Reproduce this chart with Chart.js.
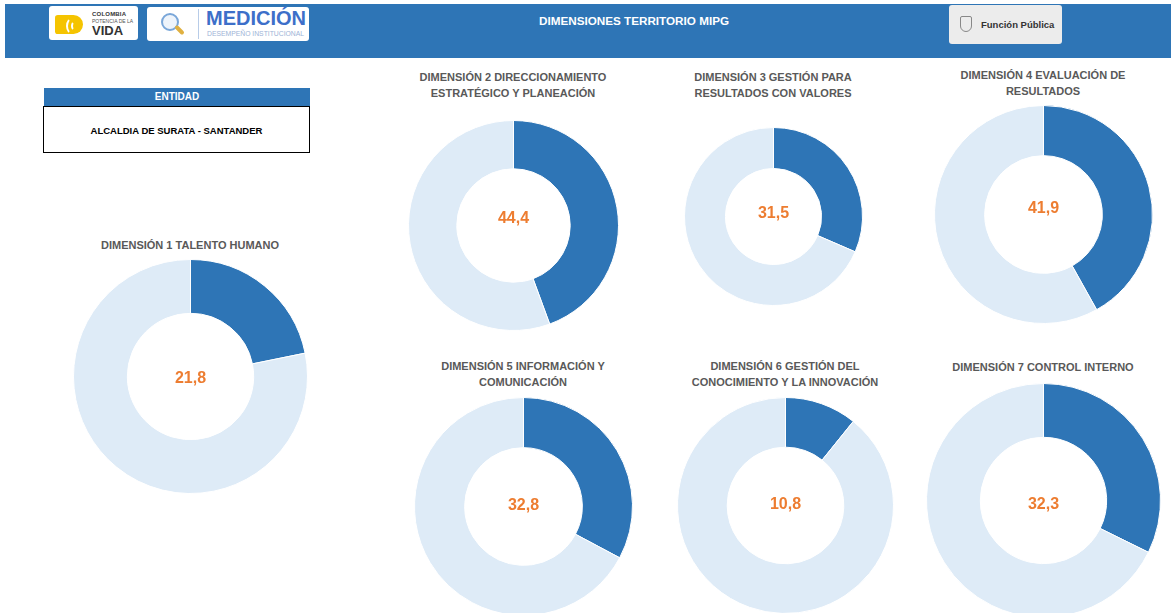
<!DOCTYPE html>
<html>
<head>
<meta charset="utf-8">
<script src="https://cdn.jsdelivr.net/npm/chart.js@4.4.0/dist/chart.umd.min.js"></script>
<style>
  body { margin:0; width:1171px; height:613px; background:#fff; overflow:hidden; position:relative;
         font-family:"Liberation Sans",Arial,sans-serif; }
  .abs { position:absolute; white-space:nowrap; }
  #header { left:5px; top:4px; width:1166px; height:54px; background:#2E75B6; }
  #mainTitle { left:407px; top:14px; width:454px; text-align:center; color:#fff; font-weight:bold; font-size:11.7px; }
  .logo { background:#fff; border-radius:3px; }
  .title { text-align:center; color:#595959; font-weight:bold; font-size:11px; line-height:16px; }
  #entHead { left:44px; top:88px; width:266px; height:18px; background:#2E75B6; color:#fff; font-weight:bold;
             font-size:10px; text-align:center; line-height:18px; }
  #entBox { left:43px; top:106px; width:265px; height:45px; border:1px solid #000; font-weight:bold; font-size:9.5px;
            text-align:center; line-height:47px; color:#000; }
  canvas { position:absolute; }
</style>
</head>
<body>
<div id="header" class="abs"></div>
<div id="mainTitle" class="abs">DIMENSIONES TERRITORIO MIPG</div>

<!-- logo Colombia -->
<div class="abs logo" style="left:49px;top:6px;width:89px;height:34px;">
  <div class="abs" style="left:6px;top:9px;width:28px;height:19px;background:#F5C400;border-radius:3px 10px 10px 3px;"></div>
  <div class="abs" style="left:17px;top:11px;width:12px;height:14px;border:2px solid #fff;border-right:none;border-top-color:transparent;border-bottom-color:transparent;border-radius:50%;"></div>
  <div class="abs" style="left:22px;top:15px;width:6px;height:6px;border:2px solid #fff;border-right:none;border-top-color:transparent;border-bottom-color:transparent;border-radius:50%;"></div>
  <div class="abs" style="left:43px;top:5px;font-size:6px;font-weight:bold;color:#333;letter-spacing:0.2px;">COLOMBIA</div>
  <div class="abs" style="left:43px;top:12px;font-size:5px;color:#555;">POTENCIA DE LA</div>
  <div class="abs" style="left:43px;top:17px;font-size:13px;font-weight:bold;color:#333;">VIDA</div>
</div>

<!-- logo Medición -->
<div class="abs logo" style="left:147px;top:7px;width:162px;height:34px;">
  <div class="abs" style="left:14px;top:6px;width:14px;height:14px;border:2px solid #7AA7D9;border-radius:50%;background:#EEF4FB;"></div>
  <div class="abs" style="left:27px;top:21px;width:11px;height:4px;background:#E0B040;transform:rotate(45deg);border-radius:2px;"></div>
  <div class="abs" style="left:51px;top:2px;width:1px;height:30px;background:#B8CCE8;"></div>
  <div class="abs" style="left:59px;top:0px;font-size:20px;font-weight:bold;color:#3D6FC9;">MEDICIÓN</div>
  <div class="abs" style="left:60px;top:23px;font-size:6.8px;color:#9DB3D6;">DESEMPEÑO INSTITUCIONAL</div>
</div>

<!-- logo Función Pública -->
<div class="abs" style="left:949px;top:5px;width:113px;height:39px;background:#ECECEC;border-radius:3px;">
  <div class="abs" style="left:11px;top:11px;width:10px;height:14px;border:1px solid #888;border-radius:2px 2px 6px 6px;"></div>
  <div class="abs" style="left:32px;top:14px;font-size:9.5px;font-weight:bold;color:#333;">Función Pública</div>
</div>

<div id="entHead" class="abs">ENTIDAD</div>
<div id="entBox" class="abs">ALCALDIA DE SURATA - SANTANDER</div>

<script>
// datos
const dimensiones = [
  ['DIMENSIÓN 1 TALENTO HUMANO'],
  ['DIMENSIÓN 2 DIRECCIONAMIENTO', 'ESTRATÉGICO Y PLANEACIÓN'],
  ['DIMENSIÓN 3 GESTIÓN PARA', 'RESULTADOS CON VALORES'],
  ['DIMENSIÓN 4 EVALUACIÓN DE', 'RESULTADOS'],
  ['DIMENSIÓN 5 INFORMACIÓN Y', 'COMUNICACIÓN'],
  ['DIMENSIÓN 6 GESTIÓN DEL', 'CONOCIMIENTO Y LA INNOVACIÓN'],
  ['DIMENSIÓN 7 CONTROL INTERNO']
];
const puntajes = [21.8, 44.4, 31.5, 41.9, 32.8, 10.8, 32.3];
const restantes = [78.2, 55.6, 68.5, 58.1, 67.2, 89.2, 67.7];

// posicion de cada dona: centro x, centro y, radio, y del titulo, ajuste del texto central
const layout = [
  {cx:190,  cy:376, r:117, ty:237, dy:2},
  {cx:513,  cy:225, r:105, ty:69,  dy:-7},
  {cx:773,  cy:216, r:89,  ty:69,  dy:-3},
  {cx:1043, cy:214, r:109, ty:67,  dy:-6},
  {cx:523,  cy:506, r:109, ty:358, dy:-1},
  {cx:785,  cy:505, r:108, ty:358, dy:-1},
  {cx:1043, cy:500, r:117, ty:359, dy:4}
];

const centerText = {
  id: 'centerText',
  afterDraw(chart, args, opts) {
    const arc = chart.getDatasetMeta(0).data[0];
    const ctx = chart.ctx;
    ctx.save();
    ctx.font = 'bold 16px "Liberation Sans", Arial, sans-serif';
    ctx.fillStyle = '#ED7D31';
    ctx.textAlign = 'center';
    ctx.textBaseline = 'middle';
    ctx.fillText(opts.text, arc.x, arc.y + opts.dy);
    ctx.restore();
  }
};

dimensiones.forEach((lines, i) => {
  const L = layout[i];
  const t = document.createElement('div');
  t.className = 'abs title';
  t.style.left = (L.cx - 140) + 'px';
  t.style.width = '280px';
  t.style.top = L.ty + 'px';
  t.innerHTML = lines.join('<br>');
  document.body.appendChild(t);

  const size = 2 * L.r + 1;
  const cv = document.createElement('canvas');
  cv.width = size; cv.height = size;
  cv.style.width = size + 'px'; cv.style.height = size + 'px';
  cv.style.left = (L.cx - size / 2) + 'px';
  cv.style.top = (L.cy - size / 2) + 'px';
  document.body.appendChild(cv);

  new Chart(cv, {
    type: 'doughnut',
    data: {
      labels: ['Puntaje', 'Restante'],
      datasets: [{
        data: [puntajes[i], restantes[i]],
        backgroundColor: ['#2E75B6', '#DEEBF7'],
        borderColor: '#ffffff',
        borderWidth: 1
      }]
    },
    options: {
      responsive: false,
      animation: false,
      cutout: '54%',
      layout: { padding: 0 },
      plugins: {
        legend: { display: false },
        tooltip: { enabled: false },
        centerText: { text: puntajes[i].toFixed(1).replace('.', ','), dy: L.dy }
      }
    },
    plugins: [centerText]
  });
});
</script>
</body>
</html>
